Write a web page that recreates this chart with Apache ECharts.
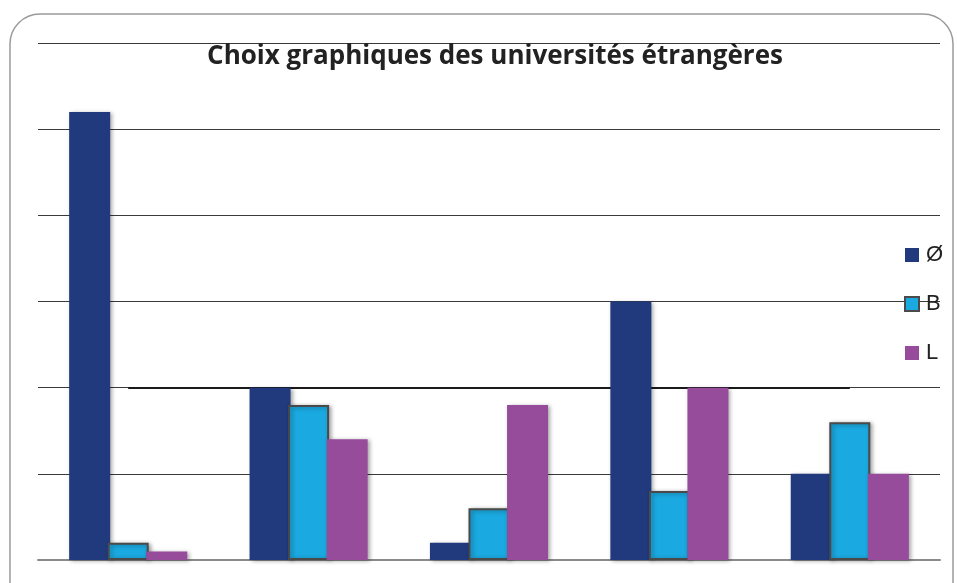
<!DOCTYPE html>
<html>
<head>
<meta charset="utf-8">
<script src="https://cdn.jsdelivr.net/npm/echarts@6/dist/echarts.min.js"></script>
<style>
  html, body { margin: 0; padding: 0; background: #fff; }
  #chart { width: 957px; height: 583px; }
</style>
</head>
<body>
<div id="chart"></div>
<script>
// Five groups of universities, three graphic choices each
const categories = ['1', '2', '3', '4', '5'];
const seriesNames = ['Ø', 'B', 'L'];
const valuesO = [52, 20, 2, 30, 10];
const valuesB = [2, 18, 6, 8, 16];
const valuesL = [1, 14, 18, 20, 10];
const titleText = 'Choix graphiques des universités étrangères';

const colors = ['#213A7D', '#1BA9E1', '#964B9B'];
const barShadow = {
  shadowColor: 'rgba(0,0,0,0.35)',
  shadowBlur: 4,
  shadowOffsetX: 2,
  shadowOffsetY: 1
};

const chart = echarts.init(document.getElementById('chart'));
chart.setOption({
  animation: false,
  backgroundColor: '#fff',
  title: {
    text: titleText,
    left: 490,
    textAlign: 'center',
    top: 39,
    textStyle: {
      fontFamily: 'Open Sans',
      fontWeight: 'bold',
      fontSize: 26,
      color: '#222'
    }
  },
  legend: {
    orient: 'vertical',
    left: 904,
    top: 244,
    padding: 0,
    icon: 'rect',
    itemWidth: 14,
    itemHeight: 14,
    itemGap: 27,
    data: seriesNames,
    textStyle: { fontFamily: 'Liberation Sans', fontSize: 22, color: '#222', padding: [0, 0, 0, 2] }
  },
  graphic: [{
    type: 'rect',
    shape: { x: 10, y: 14, width: 943, height: 600, r: 30 },
    style: { fill: 'none', stroke: '#9a9a9a', lineWidth: 1.5 },
    z: 100
  }],
  grid: { left: 38, right: 17, top: 43, bottom: 23 },
  xAxis: {
    type: 'category',
    data: categories,
    axisLine: { show: true, lineStyle: { color: '#8a8a8a', width: 2 } },
    axisTick: { show: false },
    axisLabel: { show: false }
  },
  yAxis: {
    type: 'value',
    min: 0,
    max: 60,
    interval: 10,
    axisLabel: { show: false },
    axisLine: { show: false },
    axisTick: { show: false },
    splitLine: { lineStyle: { color: '#3a3a3a', width: 1 } }
  },
  series: [
    {
      name: seriesNames[0],
      type: 'bar',
      data: valuesO,
      barWidth: 41,
      barGap: '-6%',
      itemStyle: Object.assign({ color: colors[0] }, barShadow)
    },
    {
      name: seriesNames[1],
      type: 'bar',
      data: valuesB,
      barWidth: 41,
      barGap: '-6%',
      itemStyle: Object.assign({ color: colors[1], borderColor: '#4a4a4a', borderWidth: 2 }, barShadow),
      markLine: {
        silent: true,
        symbol: 'none',
        label: { show: false },
        lineStyle: { color: '#1a1a1a', width: 2, type: 'solid' },
        data: [[{ coord: [0, 20] }, { coord: [4, 20] }]],
        z: 1
      }
    },
    {
      name: seriesNames[2],
      type: 'bar',
      data: valuesL,
      barWidth: 41,
      barGap: '-6%',
      itemStyle: Object.assign({ color: colors[2] }, barShadow)
    }
  ]
});
</script>
</body>
</html>
